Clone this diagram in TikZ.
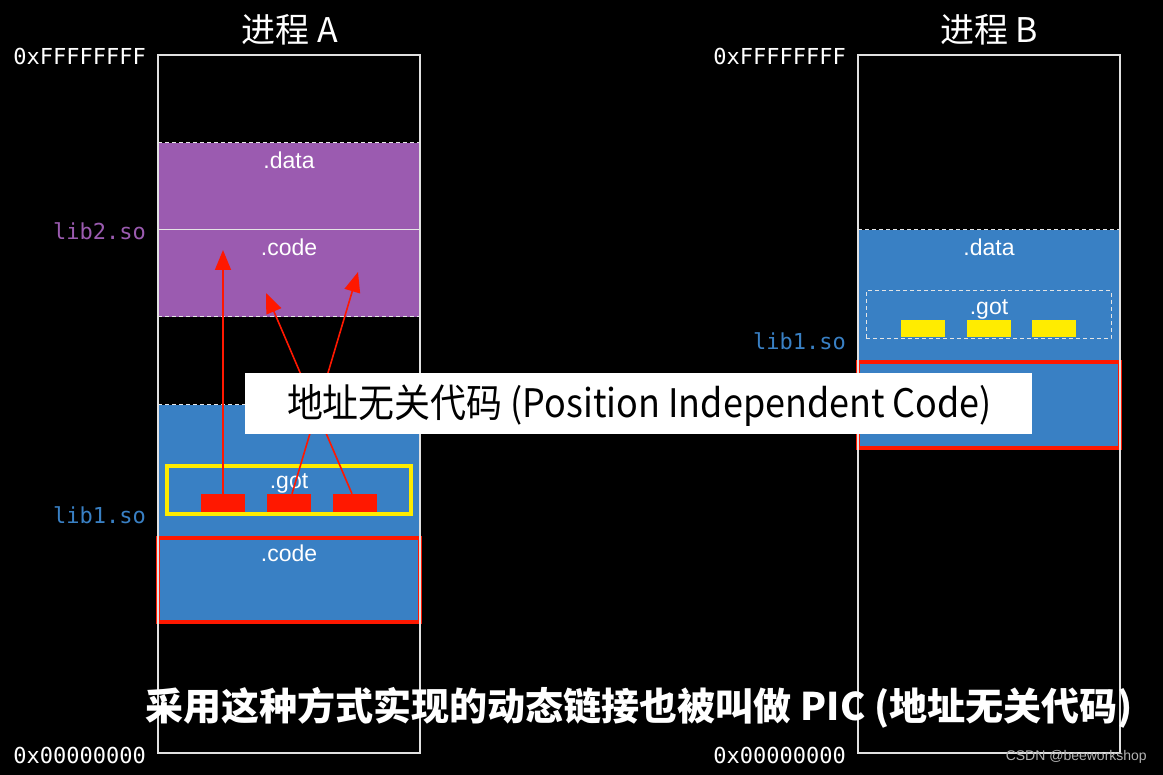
\documentclass[tikz,border=0pt]{standalone}
\usepackage{fontspec}
\setmainfont{Liberation Sans}
\setmonofont{DejaVu Sans Mono}
\newfontfamily\cjk{Noto Sans CJK SC}
\usetikzlibrary{arrows.meta,calc}
\definecolor{libpurple}{RGB}{155,91,176}
\definecolor{libblue}{RGB}{57,128,196}
\definecolor{hotred}{RGB}{255,24,0}
\definecolor{goty}{RGB}{255,236,0}
\definecolor{colline}{RGB}{225,225,225}
\tikzset{
  fillbox/.style={inner sep=0pt, outer sep=0pt, minimum width=262pt},
  seglabel/.style={text=white, font=\fontsize{23}{26}\selectfont, inner sep=0pt},
  addr/.style={text=white, font=\ttfamily\fontsize{22}{24}\selectfont, anchor=east, inner sep=0pt},
  liblabel/.style={font=\ttfamily\fontsize{22}{24}\selectfont, anchor=east, inner sep=0pt},
  dashline/.style={draw=white!90!black, line width=1pt, dash pattern=on 4pt off 3pt},
  outline/.style={draw=colline, line width=1.4pt, inner sep=0pt, outer sep=0pt, minimum width=262pt, minimum height=698pt},
  slot/.style={inner sep=0pt, minimum width=44pt, minimum height=18pt},
  redbox/.style={draw=hotred, line width=3.6pt, inner sep=0pt, minimum width=262pt},
  ptr/.style={draw=hotred, line width=1.6pt, -{Triangle[length=20pt,width=16pt]}},
  title/.style={text=white, font=\cjk\fontsize{34}{38}\selectfont, inner sep=0pt},
}
\begin{document}
\begin{tikzpicture}[x=1pt,y=-1pt]
\fill[black] (0,0) rectangle (1163,775);
\useasboundingbox (0,0) rectangle (1163,775);

% ---------- Process A ----------
\node[title] (titleA) at (290,30) {进程 A};
\node[fillbox, fill=libpurple, minimum height=87pt] (dataA) at (289,186.5) {};
\node[fillbox, fill=libpurple, minimum height=87pt] (libcodeA) at (289,273.5) {};
\node[fillbox, fill=libblue, minimum height=218pt] (lib1A) at (289,514) {};
\draw[white!90!black, line width=1pt] (dataA.south west) -- (dataA.south east);
\draw[dashline] (dataA.north west) -- (dataA.north east);
\draw[dashline] (libcodeA.south west) -- (libcodeA.south east);
\draw[dashline] (lib1A.north west) -- (lib1A.north east);
\node[seglabel] (dataAl) at (289,160) {.data};
\node[seglabel] (libcodeAl) at (289,247) {.code};

\node[draw=goty, line width=3.6pt, inner sep=0pt, minimum width=244pt, minimum height=48pt] (gotA) at (289,490) {};
\node[seglabel] (gotAl) at (289,483) {.got};
\node[slot, fill=hotred] (sA1) at (223,503) {};
\node[slot, fill=hotred] (sA2) at (289,503) {};
\node[slot, fill=hotred] (sA3) at (355,503) {};
\node[redbox, minimum height=84pt] (codeA) at (289,580) {};
\node[seglabel] (codeAl) at (289,553) {.code};

\coordinate (tA1) at (223,250);
\coordinate (tA2) at (358,272);
\coordinate (tA3) at (266,293);
\draw[ptr] (sA1.north) -- (tA1);
\draw[ptr] ($(sA2.north)+(3,0)$) -- (tA2);
\draw[ptr] ($(sA3.north)+(-3,0)$) -- (tA3);

\node[outline] (colA) at (289,404) {};
\node[addr] (topA) at (146,56) {0xFFFFFFFF};
\node[addr] (botA) at (146,755) {0x00000000};
\node[liblabel, text=libpurple] (lib2Al) at (146,231) {lib2.so};
\node[liblabel, text=libblue] (lib1Al) at (146,515) {lib1.so};

% ---------- Process B ----------
\node[title] (titleB) at (989,30) {进程 B};
\node[fillbox, fill=libblue, minimum height=217pt] (lib1B) at (989,338.5) {};
\draw[dashline] (lib1B.north west) -- (lib1B.north east);
\node[seglabel] (dataBl) at (989,247) {.data};
\node[dashline, inner sep=0pt, minimum width=245pt, minimum height=48pt] (gotB) at (988.5,315) {};
\node[seglabel] (gotBl) at (989,309) {.got};
\node[slot, fill=goty, minimum height=17pt] (sB1) at (923,328.5) {};
\node[slot, fill=goty, minimum height=17pt] (sB2) at (988.5,328.5) {};
\node[slot, fill=goty, minimum height=17pt] (sB3) at (1054,328.5) {};
\node[redbox, minimum height=86pt] (codeB) at (989,405) {};
\node[seglabel] (codeBl) at (989,383) {.code};

\node[outline] (colB) at (989,404) {};
\node[addr] (topB) at (846,56) {0xFFFFFFFF};
\node[addr] (botB) at (846,755) {0x00000000};
\node[liblabel, text=libblue] (lib1Bl) at (846,341) {lib1.so};

% ---------- caption box ----------
\node[fill=white, inner sep=0pt, minimum width=787pt, minimum height=61pt] (picbox) at (638.5,403.5) {};
\node[inner sep=0pt] (pictext) at (639.5,405) {\resizebox{705pt}{33pt}{\cjk\fontsize{40}{44}\selectfont 地址无关代码 (Position Independent Code)}};

% ---------- subtitle ----------
\node[inner sep=0pt, text=white] (subtitle) at (639,708) {\resizebox{988pt}{!}{\cjk\bfseries\fontsize{36}{40}\selectfont 采用这种方式实现的动态链接也被叫做 PIC (地址无关代码)}};

\node[anchor=east, inner sep=0pt, text=white!70!black, font=\fontsize{14}{16}\selectfont] (mark) at (1147,757) {CSDN @beeworkshop};
\end{tikzpicture}
\end{document}
